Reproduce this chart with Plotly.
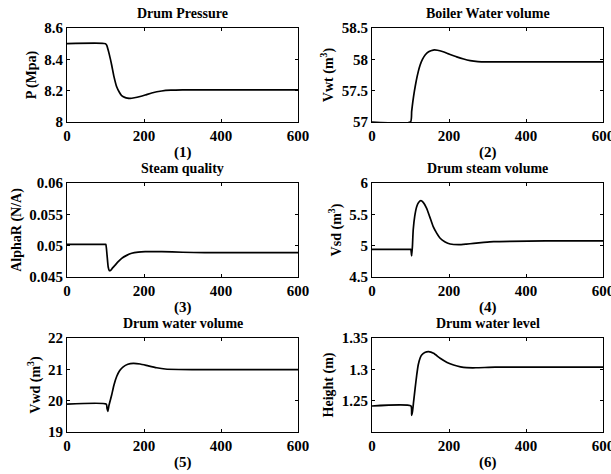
import plotly.graph_objects as go

# ---- data ----
t_p = [0, 100, 103, 110, 116, 122, 129, 136, 142, 150, 157, 164, 175, 190, 203, 220, 246, 270, 300, 350, 400, 500, 600]
p_val = [8.5, 8.5, 8.49, 8.43, 8.364, 8.29, 8.225, 8.19, 8.168, 8.157, 8.152, 8.151, 8.155, 8.163, 8.172, 8.185, 8.198, 8.203, 8.205, 8.205, 8.205, 8.205, 8.205]

t_vwt = [0, 100, 103, 106, 110, 115, 120, 125, 131, 138, 147, 159, 170, 185, 200, 220, 238, 255, 275, 298, 350, 400, 500, 600]
vwt_val = [57.0, 57.0, 57.17, 57.32, 57.49, 57.66, 57.8, 57.91, 58.0, 58.07, 58.12, 58.148, 58.145, 58.12, 58.085, 58.04, 58.005, 57.98, 57.965, 57.96, 57.96, 57.96, 57.96, 57.96]

t_a = [0, 100, 101, 104, 107, 110, 114, 119, 125, 133, 142, 155, 168, 185, 203, 246, 300, 358, 450, 600]
a_val = [0.0502, 0.0502, 0.0502, 0.0485, 0.0466, 0.0460, 0.0461, 0.0465, 0.0469, 0.04745, 0.04798, 0.04845, 0.04878, 0.04897, 0.04904, 0.04904, 0.04895, 0.04888, 0.04888, 0.04888]

t_vsd = [0, 100, 101, 103, 105, 107, 111, 116, 121, 127, 133, 142, 150, 159, 168, 177, 190, 203, 225, 245, 264, 290, 316, 358, 450, 600]
vsd_val = [4.94, 4.94, 4.94, 4.835, 4.99, 5.25, 5.47, 5.622, 5.69, 5.718, 5.69, 5.596, 5.46, 5.303, 5.2, 5.118, 5.06, 5.027, 5.016, 5.025, 5.037, 5.052, 5.064, 5.07, 5.075, 5.075]

t_vwd = [0, 102, 104, 106, 109, 116, 122, 129, 137, 146, 158, 172, 190, 211, 233, 255, 290, 358, 450, 600]
vwd_val = [19.89, 19.89, 19.75, 19.66, 19.85, 20.18, 20.5, 20.77, 20.96, 21.08, 21.16, 21.19, 21.17, 21.11, 21.05, 21.01, 20.995, 20.99, 20.99, 20.99]

t_h = [0, 101, 103, 105, 108, 112, 116, 120, 125, 129, 137, 147, 160, 177, 195, 212, 230, 246, 270, 320, 450, 600]
h_val = [1.2415, 1.2415, 1.2266, 1.232, 1.248, 1.2697, 1.29, 1.3069, 1.318, 1.3229, 1.3268, 1.3282, 1.3255, 1.3176, 1.311, 1.3069, 1.304, 1.3027, 1.3025, 1.3035, 1.3035, 1.3035]

titles = ["Drum Pressure", "Boiler Water volume", "Steam quality",
          "Drum steam volume", "Drum water volume", "Drum water level"]
ylabels = ["P (Mpa)", "Vwt (m<sup>3</sup>)", "AlphaR (N/A)",
           "Vsd (m<sup>3</sup>)", "Vwd (m<sup>3</sup>)", "Height (m)"]
sublabels = ["(1)", "(2)", "(3)", "(4)", "(5)", "(6)"]
x_ticks = [0, 200, 400, 600]
y_ranges = [[8, 8.6], [57, 58.5], [0.045, 0.06], [4.5, 6], [19, 22], [1.2, 1.35]]
y_ticks = [[8, 8.2, 8.4, 8.6], [57, 57.5, 58, 58.5], [0.045, 0.05, 0.055, 0.06],
           [4.5, 5, 5.5, 6], [19, 20, 21, 22], [1.25, 1.3, 1.35]]
y_ticktext = [["8", "8.2", "8.4", "8.6"], ["57", "57.5", "58", "58.5"],
              ["0.045", "0.05", "0.055", "0.06"], ["4.5", "5", "5.5", "6"],
              ["19", "20", "21", "22"], ["1.25", "1.3", "1.35"]]

series = [(t_p, p_val), (t_vwt, vwt_val), (t_a, a_val),
          (t_vsd, vsd_val), (t_vwd, vwd_val), (t_h, h_val)]

W, H = 611, 474
col_px = [(67, 298), (372, 603)]
row_px = [(28, 122), (183, 277), (338, 432)]

FONT = "Liberation Serif"
fig = go.Figure()
layout = dict(width=W, height=H, margin=dict(l=0, r=0, t=0, b=0, autoexpand=False),
              paper_bgcolor="white", plot_bgcolor="white", showlegend=False,
              font=dict(family=FONT, size=13, color="black", weight="bold"))
annotations = []

for i in range(6):
    r, c = divmod(i, 2)
    x0, x1 = col_px[c]
    y0, y1 = row_px[r]
    n = "" if i == 0 else str(i + 1)
    xs, ys = series[i]
    fig.add_trace(go.Scatter(x=xs, y=ys, mode="lines", cliponaxis=True,
                             line=dict(color="black", width=1.7, shape="spline", smoothing=0.5),
                             xaxis="x" + n, yaxis="y" + n, hoverinfo="skip"))
    layout["xaxis" + n] = dict(domain=[x0 / W, x1 / W], anchor="y" + n, automargin=False,
                               range=[0, 600], tickvals=x_ticks, ticklabeloverflow="allow",
                               ticks="inside", ticklen=3, tickcolor="black",
                               showline=True, linecolor="black", linewidth=1,
                               mirror="ticks", showgrid=False, zeroline=False,
                               tickfont=dict(family=FONT, size=15, weight="bold"))
    layout["yaxis" + n] = dict(domain=[1 - y1 / H, 1 - y0 / H], anchor="x" + n, automargin=False,
                               range=y_ranges[i], tickvals=y_ticks[i], ticktext=y_ticktext[i],
                               ticklabeloverflow="allow",
                               ticks="inside", ticklen=3, tickcolor="black",
                               showline=True, linecolor="black", linewidth=1,
                               mirror="ticks", showgrid=False, zeroline=False,
                               tickfont=dict(family=FONT, size=15, weight="bold"),
                               title=dict(text=ylabels[i], standoff=4,
                                          font=dict(family=FONT, size=14, weight="bold")))
    cx = (x0 + x1) / 2 / W
    annotations.append(dict(text=titles[i], x=cx, y=1 - (y0 - 15) / H, xref="paper", yref="paper",
                            xanchor="center", yanchor="middle", showarrow=False,
                            font=dict(family=FONT, size=14, weight="bold")))
    annotations.append(dict(text=sublabels[i], x=cx, y=1 - (y1 + 30) / H, xref="paper", yref="paper",
                            xanchor="center", yanchor="middle", showarrow=False,
                            font=dict(family=FONT, size=15, weight="bold")))

layout["annotations"] = annotations
fig.update_layout(**layout)
fig.write_html("out.html", config={"displayModeBar": False},
               post_script="document.body.style.margin='0px';document.body.style.overflow='hidden';")
